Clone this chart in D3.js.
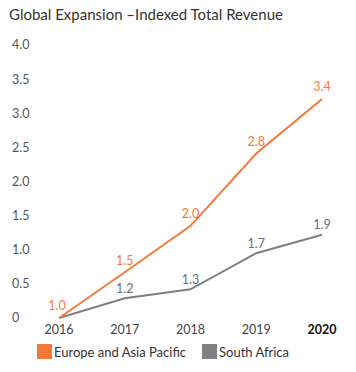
<!DOCTYPE html>
<html><head><meta charset="utf-8">
<script src="https://cdn.jsdelivr.net/npm/d3@7"></script>
<style>body{margin:0;background:#fff;}svg{display:block;}</style>
</head><body>
<svg id="c" width="356" height="372"></svg>
<script>
const title = "Global Expansion \u2013Indexed Total Revenue";
const years = ["2016","2017","2018","2019","2020"];
const yTicks = [0,0.5,1.0,1.5,2.0,2.5,3.0,3.5,4.0];
const europeValues = [0, 0.67, 1.35, 2.41, 3.21];
const europeLabels = ["1.0","1.5","2.0","2.8","3.4"];
const africaValues = [0, 0.29, 0.42, 0.95, 1.22];
const africaLabels = ["","1.2","1.3","1.7","1.9"];
const seriesNames = ["Europe and Asia Pacific","South Africa"];
const colors = ["#f47a3a","#7f7f84"];
const labelColors = ["#f47a3a","#6a6d75"];

const svg = d3.select("#c");
const font = "Lato, 'Open Sans', sans-serif";

svg.append("text").attr("x",9).attr("y",20).attr("font-family",font)
  .attr("font-size",15).attr("fill","#333").text(title);

const x = d3.scalePoint().domain(years).range([59,322]);
const y = d3.scaleLinear().domain([0,4]).range([318,45]);

svg.append("g").selectAll("text").data(yTicks).join("text")
  .attr("x",12).attr("y",d=>y(d)).attr("dy","0.35em")
  .attr("font-family",font).attr("font-size",12.5).attr("fill","#555")
  .text(d=> d===0 ? "0" : d3.format(".1f")(d));

svg.append("g").selectAll("text").data(years).join("text")
  .attr("x",d=>x(d)).attr("y",330).attr("dy","0.35em").attr("text-anchor","middle")
  .attr("font-family",font).attr("font-size",12.5)
  .attr("font-weight",(d,i)=> i===years.length-1 ? "bold":"normal")
  .attr("fill",(d,i)=> i===years.length-1 ? "#111":"#444")
  .text(d=>d);

const line = d3.line().x((d,i)=>x(years[i])).y(d=>y(d));
const series = [
  {vals:europeValues, labs:europeLabels, off:-12},
  {vals:africaValues, labs:africaLabels, off:-10}
];
[1,0].forEach(k=>{
  const s = series[k];
  svg.append("path").datum(s.vals).attr("d",line).attr("fill","none")
    .attr("stroke",colors[k]).attr("stroke-width",2);
});
[0,1].forEach(k=>{
  const s = series[k];
  const pts = s.vals.map((v,i)=>({v, i, lab:s.labs[i]})).filter(p=>p.lab!=="");
  svg.append("g").selectAll("text").data(pts).join("text")
    .attr("x",p=>x(years[p.i]) - (p.i===0?2:0)).attr("y",p=>y(p.v)+s.off).attr("dy","0.35em")
    .attr("text-anchor","middle").attr("font-family",font).attr("font-size",12.5)
    .attr("fill",labelColors[k]).text(p=>p.lab);
});

const leg = svg.append("g");
const legX = [37,202];
seriesNames.forEach((n,i)=>{
  leg.append("rect").attr("x",legX[i]).attr("y",344).attr("width",15).attr("height",15).attr("fill",colors[i]);
  leg.append("text").attr("x",legX[i]+17).attr("y",352).attr("dy","0.35em")
    .attr("font-family",font).attr("font-size",13).attr("fill","#333").text(n);
});
</script>
</body></html>
